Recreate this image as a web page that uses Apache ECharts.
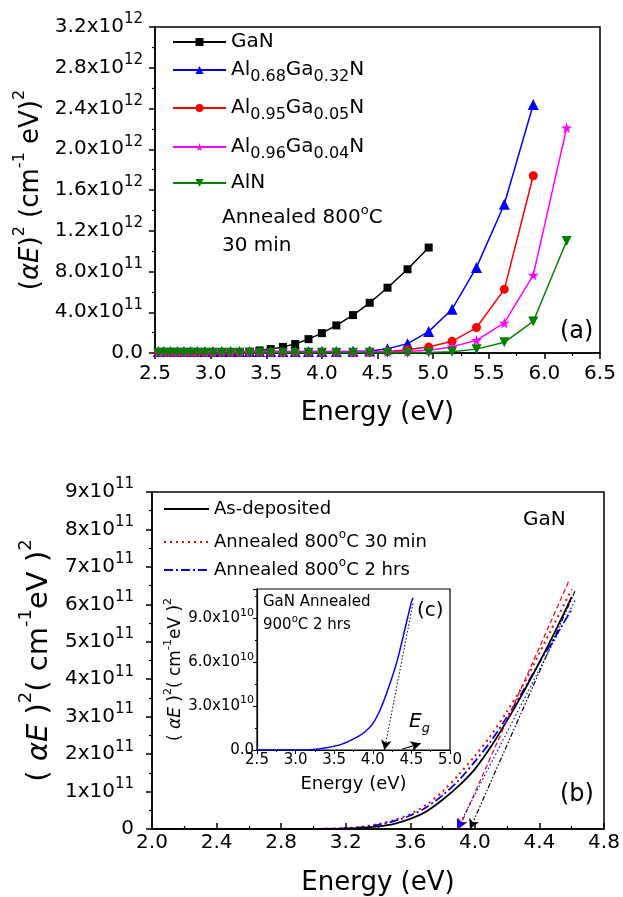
<!DOCTYPE html>
<html>
<head>
<meta charset="utf-8" />
<title>GaN / AlGaN absorption edges</title>
<script src="https://cdn.jsdelivr.net/npm/echarts@6/dist/echarts.min.js"></script>
<style>
  html, body { margin: 0; padding: 0; background: #fff; }
  #main { width: 623px; height: 897px; }
</style>
</head>
<body>
<div id="main"></div>
<script>
var FONT = 'DejaVu Sans';

// ---- panel (a): (alpha E)^2 in units of 1e11, one value per measured energy ----
var energyA = [2.53, 2.58, 2.64, 2.70, 2.76, 2.82, 2.88, 2.95, 3.02, 3.10, 3.18, 3.26, 3.35, 3.44, 3.54,
               3.65, 3.76, 3.88, 4.00, 4.13, 4.28, 4.43, 4.59, 4.77, 4.96, 5.17, 5.39, 5.64, 5.90, 6.20];
var ganA    = [0.01, 0.01, 0.01, 0.01, 0.01, 0.01, 0.01, 0.01, 0.02, 0.02, 0.04, 0.07, 0.13, 0.25, 0.38,
               0.60, 0.88, 1.36, 1.95, 2.71, 3.72, 4.93, 6.41, 8.22, 10.35];
var al068A  = [0.14, 0.14, 0.14, 0.14, 0.14, 0.14, 0.14, 0.14, 0.14, 0.14, 0.14, 0.14, 0.14, 0.14, 0.14,
               0.14, 0.14, 0.14, 0.14, 0.14, 0.16, 0.20, 0.42, 0.92, 2.10, 4.30, 8.40, 14.6, 24.4];
var al095A  = [0.08, 0.08, 0.08, 0.08, 0.08, 0.08, 0.08, 0.08, 0.08, 0.08, 0.08, 0.08, 0.08, 0.08, 0.08,
               0.08, 0.08, 0.08, 0.08, 0.08, 0.08, 0.10, 0.15, 0.32, 0.58, 1.15, 2.50, 6.25, 17.4];
var al096A  = [0.10, 0.10, 0.10, 0.10, 0.10, 0.10, 0.10, 0.10, 0.10, 0.10, 0.10, 0.10, 0.10, 0.10, 0.10,
               0.10, 0.10, 0.10, 0.10, 0.10, 0.10, 0.10, 0.10, 0.15, 0.28, 0.60, 1.25, 2.95, 7.65, 22.1];
var alnA    = [0.02, 0.02, 0.02, 0.02, 0.02, 0.02, 0.02, 0.02, 0.02, 0.02, 0.02, 0.02, 0.02, 0.02, 0.02,
               0.02, 0.02, 0.02, 0.02, 0.02, 0.02, 0.02, 0.02, 0.03, 0.06, 0.13, 0.38, 1.05, 3.10, 11.0];
var namesA  = ['GaN', 'Al0.68Ga0.32N', 'Al0.95Ga0.05N', 'Al0.96Ga0.04N', 'AlN'];
var colorsA = ['#000000', '#0000ff', '#ff0000', '#ff00ff', '#008000'];

// ---- panel (b): GaN curves, units of 1e11 ----
var energyB   = [2.0, 2.2, 2.4, 2.6, 2.8, 3.0, 3.1, 3.2, 3.3, 3.4, 3.5, 3.6, 3.7, 3.8, 3.9, 4.0, 4.1, 4.2, 4.3, 4.4, 4.5, 4.6];
var asDep     = [0, 0, 0, 0, 0, 0, 0, 0.01, 0.03, 0.07, 0.14, 0.27, 0.47, 0.78, 1.15, 1.60, 2.20, 2.90, 3.65, 4.45, 5.30, 6.20];
var ann30     = [0, 0, 0, 0, 0, 0, 0.01, 0.02, 0.06, 0.13, 0.24, 0.40, 0.65, 1.00, 1.45, 1.95, 2.50, 3.15, 3.85, 4.70, 5.55, 6.40];
var ann2h     = [0, 0, 0, 0, 0, 0, 0.01, 0.02, 0.05, 0.11, 0.21, 0.36, 0.58, 0.90, 1.30, 1.80, 2.35, 3.00, 3.70, 4.45, 5.15, 5.86];
var namesB    = ['As-deposited', 'Annealed 800C 30 min', 'Annealed 800C 2 hrs'];
// linear extrapolations to the energy axis: [top point, axis point] in (eV, 1e11)
var tanAsDep  = [[4.62, 6.35], [3.97, 0]];
var tanAnn30  = [[4.58, 6.60], [3.90, 0]];
var tanAnn2h  = [[4.62, 6.10], [3.89, 0]];

// ---- inset (c): GaN annealed 900C 2 hrs, units of 1e10 ----
var energyC  = [2.5, 2.8, 3.0, 3.2, 3.4, 3.6, 3.8, 3.9, 4.0, 4.1, 4.2, 4.3, 4.35, 4.4, 4.5, 4.52];
var ann900   = [0, 0, 0, 0.02, 0.15, 0.40, 0.90, 1.25, 1.80, 2.80, 4.20, 5.80, 6.80, 7.90, 10.1, 10.4];
var tanC     = [[4.52, 10.0], [4.15, 0]];
var egArrow  = [[4.38, 0.05], [4.62, 0.45]];

function pairs(xs, ys, scale) {
  return ys.map(function (y, i) { return [xs[i], y * scale]; });
}

var chart = echarts.init(document.getElementById('main'), null, { renderer: 'canvas' });

var supRich = {
  n: { fontFamily: FONT, fontSize: 20, lineHeight: 30, color: '#000' },
  s: { fontFamily: FONT, fontSize: 15, lineHeight: 13, verticalAlign: 'top', color: '#000' }
};
var smallRich = {
  n: { fontFamily: FONT, fontSize: 15, lineHeight: 22, color: '#000' },
  s: { fontFamily: FONT, fontSize: 11, lineHeight: 10, verticalAlign: 'top', color: '#000' }
};
function nameRich(size) {
  return {
    t: { fontFamily: FONT, fontSize: size, lineHeight: size * 1.5, color: '#000' },
    i: { fontFamily: FONT, fontSize: size, lineHeight: size * 1.5, fontStyle: 'italic', color: '#000' },
    u: { fontFamily: FONT, fontSize: Math.round(size * 0.62), lineHeight: Math.round(size * 0.6), verticalAlign: 'top', color: '#000' }
  };
}
var subRich = {
  n: { fontFamily: FONT, fontSize: 20, lineHeight: 30, color: '#000' },
  b: { fontFamily: FONT, fontSize: 16, lineHeight: 14, verticalAlign: 'bottom', color: '#000' }
};
var legSupRich = {
  n: { fontFamily: FONT, fontSize: 18, lineHeight: 26, color: '#000' },
  s: { fontFamily: FONT, fontSize: 12, lineHeight: 10, verticalAlign: 'top', color: '#000' }
};

function fmtLegendA(name) {
  var m = name.match(/^Al([\d.]+)Ga([\d.]+)N$/);
  if (!m) return '{n|' + name + '}';
  return '{n|Al}{b|' + m[1] + '}{n|Ga}{b|' + m[2] + '}{n|N}';
}
function fmtLegendB(name) {
  return name.replace(/^(.*800)C(.*)$/, '{n|$1}{s|o}{n|C$2}').replace(/^([^{].*)$/, '{n|$1}');
}

function baseAxis(extra) {
  var ax = {
    type: 'value',
    axisLine: { show: true, onZero: false, lineStyle: { color: '#000', width: 1.5 } },
    axisTick: { show: true, length: 6, lineStyle: { color: '#000', width: 1.5 } },
    minorTick: { show: true, splitNumber: 2, length: 3, lineStyle: { color: '#000', width: 1.2 } },
    splitLine: { show: false },
    axisLabel: { color: '#000', fontFamily: FONT, fontSize: 20 },
    nameLocation: 'middle',
    nameTextStyle: { color: '#000', fontFamily: FONT, fontSize: 26 }
  };
  return Object.assign(ax, extra);
}

var symbolsA = ['rect', 'triangle', 'circle',
  'path://M50,0 L61,35 L98,35 L68,57 L79,91 L50,70 L21,91 L32,57 L2,35 L39,35 Z', 'triangle'];
var sizesA = [8, 11, 9, 11, 10];
var rotA = [0, 0, 0, 0, 180];
var dataA = [ganA, al068A, al095A, al096A, alnA];
var legendTopsA = [27, 55, 93, 132, 168];

var seriesA = namesA.map(function (nm, k) {
  return {
    name: nm, type: 'line', xAxisIndex: 0, yAxisIndex: 0,
    data: pairs(energyA, dataA[k], 1e11),
    symbol: symbolsA[k], symbolSize: sizesA[k], symbolRotate: rotA[k],
    showAllSymbol: true,
    itemStyle: { color: colorsA[k] },
    lineStyle: { color: colorsA[k], width: 1.5 },
    z: 2 + k
  };
});

function tangent(line, color, dash) {
  return {
    silent: true, symbol: ['none', 'arrow'], symbolSize: [8, 10],
    label: { show: false },
    lineStyle: { color: color, width: 1.2, type: dash },
    data: [[{ coord: [line[0][0], line[0][1] * 1e11] }, { coord: [line[1][0], line[1][1] * 1e11] }]]
  };
}

var seriesB = [
  { name: namesB[0], type: 'line', xAxisIndex: 1, yAxisIndex: 1, data: pairs(energyB, asDep, 1e11),
    smooth: 0.3, symbol: 'none', lineStyle: { color: '#000', width: 1.8, type: 'solid' }, itemStyle: { color: '#000' },
    markLine: tangent(tanAsDep, '#000', [5, 2, 1.5, 2, 1.5, 2]), z: 4 },
  { name: namesB[1], type: 'line', xAxisIndex: 1, yAxisIndex: 1, data: pairs(energyB, ann30, 1e11),
    smooth: 0.3, symbol: 'none', lineStyle: { color: '#ff0000', width: 2, type: [2, 4] }, itemStyle: { color: '#ff0000' },
    markLine: tangent(tanAnn30, '#ff0000', [5, 3]), z: 3 },
  { name: namesB[2], type: 'line', xAxisIndex: 1, yAxisIndex: 1, data: pairs(energyB, ann2h, 1e11),
    smooth: 0.3, symbol: 'none', lineStyle: { color: '#0000ff', width: 1.8, type: [9, 3, 2, 3] }, itemStyle: { color: '#0000ff' },
    markLine: tangent(tanAnn2h, '#0000ff', [1.5, 2.5]), z: 3 }
];

var seriesC = [{
  name: 'inset', type: 'line', xAxisIndex: 2, yAxisIndex: 2, data: pairs(energyC, ann900, 1e10),
  smooth: 0.3, symbol: 'none', lineStyle: { color: '#0000ff', width: 1.5 }, itemStyle: { color: '#0000ff' },
  markLine: {
    silent: true, symbol: ['none', 'arrow'], symbolSize: [8, 10], label: { show: false },
    data: [
      [{ coord: [tanC[0][0], tanC[0][1] * 1e10], lineStyle: { color: '#000', width: 1, type: [1.5, 2] } },
       { coord: [tanC[1][0], tanC[1][1] * 1e10] }],
      [{ coord: [egArrow[0][0], egArrow[0][1] * 1e10], lineStyle: { color: '#000', width: 1.2, type: 'solid' } },
       { coord: [egArrow[1][0], egArrow[1][1] * 1e10] }]
    ]
  },
  z: 10
}];

var legends = namesA.map(function (nm, k) {
  return {
    data: [nm], left: 167, top: legendTopsA[k], orient: 'vertical',
    itemWidth: 53, itemHeight: 10, itemGap: 0, selectedMode: false,
    formatter: fmtLegendA, textStyle: { rich: subRich }
  };
}).concat(namesB.map(function (nm, k) {
  return {
    data: [nm], left: 158, top: [495, 524, 552][k], orient: 'vertical',
    itemWidth: 45, itemHeight: 10, itemGap: 0, selectedMode: false,
    itemStyle: { color: 'rgba(0,0,0,0)', borderColor: 'rgba(0,0,0,0)', borderWidth: 0 },
    formatter: fmtLegendB, textStyle: { rich: legSupRich }
  };
}));

var option = {
  animation: false,
  backgroundColor: '#fff',
  grid: [
    { left: 155, top: 27, width: 445, height: 326, show: true, borderColor: '#000', borderWidth: 1.5 },
    { left: 152, top: 492, width: 452, height: 337, show: true, borderColor: '#000', borderWidth: 1.5 },
    { left: 257, top: 589, width: 193, height: 161, show: true, borderColor: '#000', borderWidth: 1.2, backgroundColor: '#fff', z: 5 }
  ],
  legend: legends,
  xAxis: [
    baseAxis({ gridIndex: 0, min: 2.5, max: 6.5, interval: 0.5,
      axisLabel: { color: '#000', fontFamily: FONT, fontSize: 20, margin: 11, formatter: function (v) { return v.toFixed(1); } },
      name: 'Energy (eV)', nameGap: 47 }),
    baseAxis({ gridIndex: 1, min: 2.0, max: 4.8, interval: 0.4,
      axisTick: { show: true, inside: true, length: 6, lineStyle: { color: '#000', width: 1.5 } },
      minorTick: { show: true, splitNumber: 2, length: 3, lineStyle: { color: '#000', width: 1.2 } },
      axisLabel: { color: '#000', fontFamily: FONT, fontSize: 20, margin: 4, formatter: function (v) { return v.toFixed(1); } },
      name: 'Energy (eV)', nameGap: 41 }),
    baseAxis({ gridIndex: 2, min: 2.5, max: 5.0, interval: 0.5, z: 6,
      axisLine: { show: true, onZero: false, lineStyle: { color: '#000', width: 1.2 } },
      axisTick: { show: true, length: 4, lineStyle: { color: '#000', width: 1 } },
      minorTick: { show: true, splitNumber: 2, length: 2, lineStyle: { color: '#000', width: 1 } },
      axisLabel: { color: '#000', fontFamily: FONT, fontSize: 15, margin: 3, formatter: function (v) { return v.toFixed(1); } },
      name: 'Energy (eV)', nameGap: 25, nameTextStyle: { color: '#000', fontFamily: FONT, fontSize: 18 } })
  ],
  yAxis: [
    baseAxis({ gridIndex: 0, min: 0, max: 3.2e12, interval: 4e11,
      axisLabel: { margin: 12, rich: supRich, formatter: function (v) {
        if (v === 0) return '{n|0.0}';
        var e = v >= 1e12 - 1 ? 12 : 11;
        return '{n|' + (v / Math.pow(10, e)).toFixed(1) + 'x10}{s|' + e + '}';
      } },
      name: '{t|(}{i|αE}{t|)}{u|2}{t| (cm}{u|-1}{t| eV)}{u|2}', nameGap: 96, nameRotate: 90,
      nameTextStyle: { rich: nameRich(26) } }),
    baseAxis({ gridIndex: 1, min: 0, max: 9e11, interval: 1e11,
      axisLabel: { margin: 18, rich: supRich, formatter: function (v) {
        if (v === 0) return '{n|0}';
        return '{n|' + Math.round(v / 1e11) + 'x10}{s|11}';
      } },
      name: '{t|( }{i|αE}{t| )}{u|2}{t|( cm}{u|-1}{t|eV )}{u|2}', nameGap: 90, nameRotate: 90,
      nameTextStyle: { rich: nameRich(29) } }),
    baseAxis({ gridIndex: 2, min: 0, max: 1.1e11, interval: 3e10, z: 6,
      axisLine: { show: true, onZero: false, lineStyle: { color: '#000', width: 1.2 } },
      axisTick: { show: true, length: 4, lineStyle: { color: '#000', width: 1 } },
      minorTick: { show: true, splitNumber: 2, length: 2, lineStyle: { color: '#000', width: 1 } },
      axisLabel: { margin: 3, showMaxLabel: false, rich: smallRich, formatter: function (v) {
        if (v === 0) return '{n|0.0}';
        if (Math.abs(v / 3e10 - Math.round(v / 3e10)) > 1e-6) return '';
        return '{n|' + (v / 1e10).toFixed(1) + 'x10}{s|10}';
      } },
      name: '{t|( }{i|αE}{t| )}{u|2}{t|( cm}{u|-1}{t|eV )}{u|2}', nameGap: 66, nameRotate: 90,
      nameTextStyle: { rich: nameRich(17) } })
  ],
  series: seriesA.concat(seriesB, seriesC),
  graphic: [
    { type: 'text', left: 222, top: 204, style: { text: '{t|Annealed 800}{u|o}{t|C}', rich: {
        t: { fontFamily: FONT, fontSize: 20, lineHeight: 28, fill: '#000' },
        u: { fontFamily: FONT, fontSize: 13, lineHeight: 12, verticalAlign: 'top', fill: '#000' } } } },
    { type: 'text', left: 222, top: 236, style: { text: '30 min', font: '20px "DejaVu Sans"', fill: '#000' } },
    { type: 'text', left: 560, top: 320, style: { text: '(a)', font: '24px "DejaVu Sans"', fill: '#000' } },
    { type: 'text', left: 560, top: 783, style: { text: '(b)', font: '24px "DejaVu Sans"', fill: '#000' } },
    { type: 'text', left: 523, top: 510, style: { text: 'GaN', font: '20px "DejaVu Sans"', fill: '#000' } },
    { type: 'text', left: 263, top: 595, z: 20, style: { text: 'GaN Annealed', font: '15px "DejaVu Sans"', fill: '#000' } },
    { type: 'text', left: 263, top: 614, z: 20, style: { text: '{t|900}{u|o}{t|C 2 hrs}', rich: {
        t: { fontFamily: FONT, fontSize: 15, lineHeight: 22, fill: '#000' },
        u: { fontFamily: FONT, fontSize: 10, lineHeight: 10, verticalAlign: 'top', fill: '#000' } } } },
    { type: 'text', left: 417, top: 601, z: 20, style: { text: '(c)', font: '20px "DejaVu Sans"', fill: '#000' } },
    { type: 'text', left: 409, top: 712, z: 20, style: { text: '{i|E}{b|g}', rich: {
        i: { fontFamily: FONT, fontSize: 20, fontStyle: 'italic', lineHeight: 26, fill: '#000' },
        b: { fontFamily: FONT, fontSize: 13, fontStyle: 'italic', lineHeight: 12, verticalAlign: 'bottom', fill: '#000' } } } }
  ]
};

chart.setOption(option);
</script>
</body>
</html>
